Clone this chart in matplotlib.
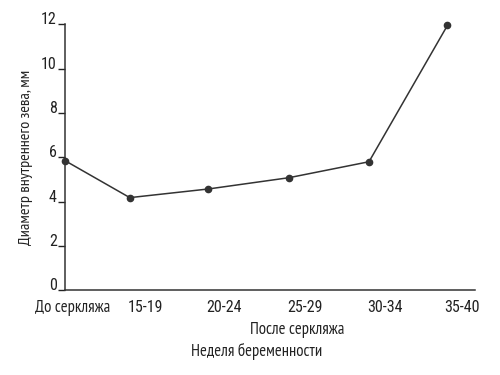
import matplotlib
matplotlib.use("Agg")
import matplotlib.pyplot as plt

# data
week_pos = [0, 0.81, 1.79, 2.8, 3.8, 4.78]
diameter = [5.85, 4.18, 4.57, 5.08, 5.8, 11.95]
label_pos = [0.09, 1.0, 1.99, 3.0, 4.0, 4.96]
labels = ["До серкляжа", "15-19", "20-24", "25-29", "30-34", "35-40"]
yticks = [0, 2, 4, 6, 8, 10, 12]

text_font = ['PT Sans Narrow', 'DejaVu Sans']
num_font = ['Roboto Condensed', 'DejaVu Sans']
plt.rcParams['font.family'] = text_font
plt.rcParams['font.size'] = 12

fig = plt.figure(figsize=(5, 3.75), dpi=100)
ax = fig.add_axes([0.13, 0.226, 0.82, 0.709])

ax.plot(week_pos, diameter, color="#333333", lw=1.1, marker="o", ms=4.5,
        clip_on=False, zorder=3)

ax.set_xlim(0, 5.125)
ax.set_ylim(0, 12)
ax.set_yticks(yticks)
ax.set_xticks(label_pos)
ax.set_xticklabels(labels)
ax.tick_params(axis="x", length=0, pad=7, colors="#222222")
ax.tick_params(axis="y", length=5, width=1, pad=1, colors="#222222")
for t in ax.get_yticklabels():
    t.set_verticalalignment("baseline")
    t.set_family(num_font)
    t.set_fontsize(11.5)
for t in ax.get_xticklabels()[1:]:
    t.set_family(num_font)
    t.set_fontsize(11.5)

for s in ["top", "right"]:
    ax.spines[s].set_visible(False)
for s in ["left", "bottom"]:
    ax.spines[s].set_color("#333333")
    ax.spines[s].set_linewidth(1.1)

ax.set_ylabel("Диаметр внутреннего зева, мм", color="#222222", fontsize=11.5)
ax.yaxis.set_label_coords(-0.078, 0.5)
fig.text(0.594, 0.12, "После серкляжа", ha="center", va="center", color="#222222")
fig.text(0.514, 0.064, "Неделя беременности", ha="center", va="center", color="#222222")

fig.savefig("out.png", dpi=100)
